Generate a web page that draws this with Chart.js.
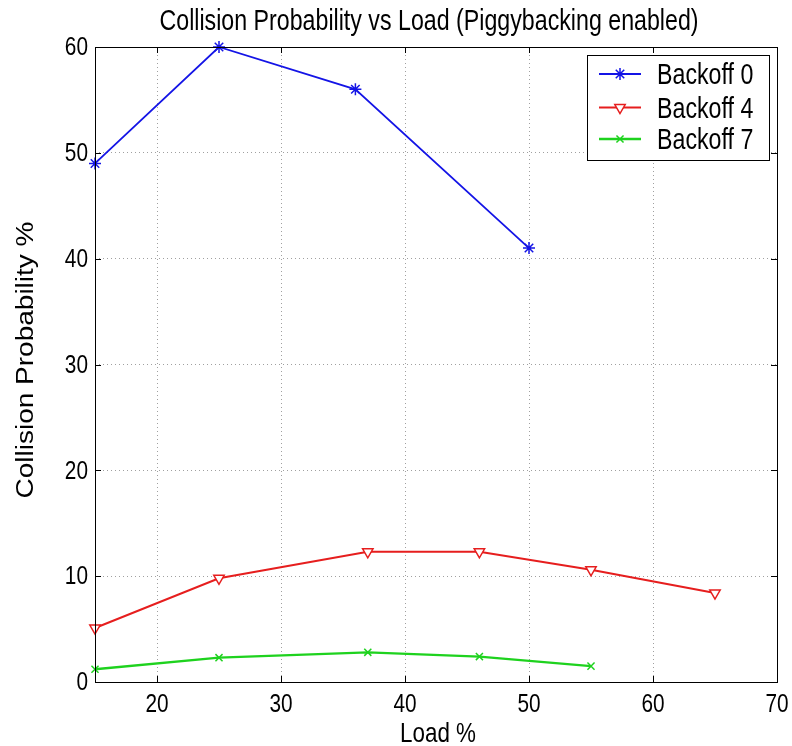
<!DOCTYPE html>
<html>
<head>
<meta charset="utf-8">
<script src="https://cdn.jsdelivr.net/npm/chart.js@4/dist/chart.umd.min.js"></script>
<style>
  body { margin: 0; background: #fff; }
  canvas { display: block; }
</style>
</head>
<body>
<canvas id="line-chart" width="792" height="746"></canvas>
<script>
// values
const titleText = "Collision Probability vs Load (Piggybacking enabled)";
const xTitle = "Load %";
const yTitle = "Collision Probability %";

const xTicks = [20, 30, 40, 50, 60, 70];
const yTicks = [0, 10, 20, 30, 40, 50, 60];

const seriesNames = ["Backoff 0", "Backoff 4", "Backoff 7"];

const loadBackoff0 = [15, 25, 36, 50];
const probBackoff0 = [49, 60, 56, 41];

const loadBackoff4 = [15, 25, 37, 46, 55, 65];
const probBackoff4 = [5.1, 9.8, 12.3, 12.3, 10.6, 8.4];

const loadBackoff7 = [15, 25, 37, 46, 55];
const probBackoff7 = [1.2, 2.3, 2.8, 2.4, 1.5];

const fontFamily = "'Liberation Sans', Arial, sans-serif";
const squeeze = 0.8; // the reference text is tall and narrow

const toPoints = (xs, ys) => xs.map((x, i) => ({ x: x, y: ys[i] }));

// draw text squeezed horizontally
const narrowText = (ctx, text, x, y, size, align, baseline) => {
  ctx.save();
  ctx.translate(x, y);
  ctx.scale(squeeze, 1);
  ctx.font = size + "px " + fontFamily;
  ctx.textAlign = align;
  ctx.textBaseline = baseline;
  ctx.fillStyle = "#000";
  ctx.fillText(text, 0, 0);
  ctx.restore();
};

// matlab style frame, inner ticks, labels, titles and legend
const matlabFrame = {
  id: "matlabFrame",
  afterDraw(chart) {
    const ctx = chart.ctx;
    const a = chart.chartArea;
    const xs = chart.scales.x;
    const ys = chart.scales.y;
    ctx.save();
    ctx.strokeStyle = "#000";
    ctx.lineWidth = 1;
    ctx.strokeRect(a.left + 0.5, a.top + 0.5, a.right - a.left, a.bottom - a.top);
    ctx.beginPath();
    xs.ticks.forEach((t) => {
      const px = Math.round(xs.getPixelForValue(t.value)) + 0.5;
      ctx.moveTo(px, a.bottom); ctx.lineTo(px, a.bottom - 6);
      ctx.moveTo(px, a.top); ctx.lineTo(px, a.top + 6);
    });
    ys.ticks.forEach((t) => {
      const py = Math.round(ys.getPixelForValue(t.value)) + 0.5;
      ctx.moveTo(a.left, py); ctx.lineTo(a.left + 6, py);
      ctx.moveTo(a.right, py); ctx.lineTo(a.right - 6, py);
    });
    ctx.stroke();

    // tick labels
    xs.ticks.forEach((t) => {
      narrowText(ctx, String(t.value), xs.getPixelForValue(t.value), a.bottom + 30, 26, "center", "alphabetic");
    });
    ys.ticks.forEach((t) => {
      narrowText(ctx, String(t.value), a.left - 7, ys.getPixelForValue(t.value) + 1, 26, "right", "middle");
    });

    // titles
    narrowText(ctx, titleText, (a.left + a.right) / 2 - 7, 30, 29, "center", "alphabetic");
    narrowText(ctx, xTitle, (a.left + a.right) / 2 + 2, 742, 28, "center", "alphabetic");
    ctx.save();
    ctx.translate(33, 360);
    ctx.scale(0.85, 1);
    ctx.rotate(-Math.PI / 2);
    ctx.font = "28px " + fontFamily;
    ctx.textAlign = "center";
    ctx.textBaseline = "alphabetic";
    ctx.fillStyle = "#000";
    ctx.fillText(yTitle, 0, 0);
    ctx.restore();

    // legend box
    const lx = 587, ly = 55, lw = 182, lh = 105;
    ctx.fillStyle = "#fff";
    ctx.fillRect(lx, ly, lw, lh);
    ctx.strokeStyle = "#000";
    ctx.lineWidth = 1;
    ctx.strokeRect(lx + 0.5, ly + 0.5, lw, lh);
    const rows = [74, 107.5, 139];
    chart.data.datasets.forEach((ds, i) => {
      const cy = rows[i];
      ctx.strokeStyle = ds.borderColor;
      ctx.lineWidth = ds.borderWidth;
      ctx.beginPath();
      ctx.moveTo(599, cy); ctx.lineTo(641, cy);
      ctx.stroke();
      if (Chart.helpers && Chart.helpers.drawPoint) {
        ctx.fillStyle = "#fff";
        ctx.lineWidth = ds.pointBorderWidth;
        Chart.helpers.drawPoint(ctx, {
          pointStyle: ds.pointStyle,
          rotation: ds.pointRotation || 0,
          radius: ds.pointRadius,
          borderWidth: ds.pointBorderWidth,
        }, 620, cy);
      }
      narrowText(ctx, ds.label, 657, cy + 10, 29, "left", "alphabetic");
    });
    ctx.restore();
  },
};

const priceChart = new Chart(document.getElementById("line-chart"), {
  type: "line",
  data: {
    datasets: [
      {
        label: seriesNames[0],
        data: toPoints(loadBackoff0, probBackoff0),
        borderColor: "#1414e6",
        backgroundColor: "#1414e6",
        borderWidth: 1.8,
        pointStyle: "star",
        pointRadius: 6,
        pointBorderWidth: 1.5,
        pointBorderColor: "#1414e6",
        clip: false,
      },
      {
        label: seriesNames[1],
        data: toPoints(loadBackoff4, probBackoff4),
        borderColor: "#e61e1e",
        backgroundColor: "#ffffff",
        borderWidth: 2,
        pointStyle: "triangle",
        pointRotation: 180,
        pointRadius: 6,
        pointBorderWidth: 1.5,
        pointBorderColor: "#e61e1e",
        pointBackgroundColor: "#ffffff",
        clip: false,
      },
      {
        label: seriesNames[2],
        data: toPoints(loadBackoff7, probBackoff7),
        borderColor: "#1ed21e",
        backgroundColor: "#1ed21e",
        borderWidth: 2.4,
        pointStyle: "crossRot",
        pointRadius: 5,
        pointBorderWidth: 1.5,
        pointBorderColor: "#1ed21e",
        clip: false,
      },
    ],
  },
  options: {
    responsive: false,
    animation: false,
    devicePixelRatio: 1,
    layout: { padding: { left: 0, right: 15, top: 47, bottom: 0 } },
    plugins: {
      legend: { display: false },
      tooltip: { enabled: false },
      title: { display: false },
    },
    scales: {
      x: {
        type: "linear",
        min: 15,
        max: 70,
        afterBuildTicks: (axis) => {
          axis.ticks = xTicks.map((v) => ({ value: v }));
        },
        afterFit: (axis) => {
          axis.height = 64;
        },
        grid: { color: "#a0a0a0", drawTicks: false, lineWidth: 1 },
        border: { display: false, dash: [1, 3] },
        ticks: { display: false },
      },
      y: {
        type: "linear",
        min: 0,
        max: 60,
        afterBuildTicks: (axis) => {
          axis.ticks = yTicks.map((v) => ({ value: v }));
        },
        afterFit: (axis) => {
          axis.width = 95;
        },
        grid: { color: "#a0a0a0", drawTicks: false, lineWidth: 1 },
        border: { display: false, dash: [1, 3] },
        ticks: { display: false },
      },
    },
  },
  plugins: [matlabFrame],
});
</script>
</body>
</html>
